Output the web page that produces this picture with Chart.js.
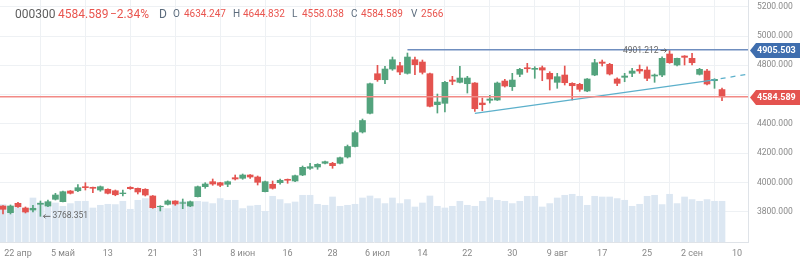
<!DOCTYPE html>
<html>
<head>
<meta charset="utf-8">
<script src="https://cdn.jsdelivr.net/npm/chart.js@4.4.0/dist/chart.umd.min.js"></script>
<style>
  html, body { margin: 0; padding: 0; background: #fff; }
  #wrap { position: relative; width: 800px; height: 263px; }
  #head span { position: absolute; white-space: nowrap; font-family: Roboto, sans-serif; line-height: 1; }
  .big { font-size: 12px; top: 8px; }
  .sm { font-size: 10px; top: 9px; }
  .red { color: #e9554f; }
  .gray { color: #5e5e5e; }
  .lbl { color: #5b6b7c; }
</style>
</head>
<body>
<div id="wrap">
  <canvas id="chart" width="800" height="263"></canvas>
  <div id="head">
    <span class="big gray" style="left:15px">000300</span>
    <span class="big red" style="left:58px">4584.589</span>
    <span class="big red" style="left:110px">−2.34%</span>
    <span class="big lbl" style="left:159px">D</span>
    <span class="sm lbl" style="left:173px">O</span>
    <span class="sm red" style="left:184px">4634.247</span>
    <span class="sm lbl" style="left:233px">H</span>
    <span class="sm red" style="left:243px">4644.832</span>
    <span class="sm lbl" style="left:292px">L</span>
    <span class="sm red" style="left:302px">4558.038</span>
    <span class="sm lbl" style="left:351px">C</span>
    <span class="sm red" style="left:361px">4584.589</span>
    <span class="sm lbl" style="left:411px">V</span>
    <span class="sm red" style="left:421px">2566</span>
  </div>
</div>
<script>
// дневные свечи 000300, 21 апр - 9 сен (индекс = торговый день)
const opens = [3838.9, 3793.2, 3857.4, 3825.3, 3811.6, 3850.6, 3838.9, 3884.7, 3868.3, 3941.4,
  3943.0, 3970.8, 3966.7, 3948.2, 3953.0, 3943.0, 3923.0, 3966.7, 3959.8, 3953.0,
  3907.3, 3834.2, 3850.6, 3873.0, 3857.4, 3838.9, 3902.5, 3970.8, 4004.9, 3998.1,
  3987.2, 4032.2, 4028.1, 4050.6, 4037.0, 3936.6, 3987.2, 3998.1, 4021.3, 4009.7,
  4050.6, 4096.4, 4105.3, 4130.6, 4130.6, 4130.6, 4173.6, 4245.3, 4344.3, 4472.0,
  4742.4, 4701.5, 4774.5, 4797.1, 4745.2, 4838.1, 4822.4, 4742.4, 4530.8, 4540.3,
  4699.4, 4683.7, 4674.2, 4678.9, 4542.3, 4560.8, 4562.8, 4692.6, 4653.7, 4738.4,
  4783.4, 4772.5, 4783.4, 4745.2, 4683.7, 4733.6, 4676.9, 4670.1, 4624.3, 4733.6,
  4822.4, 4806.6, 4706.3, 4717.9, 4745.2, 4772.5, 4767.7, 4726.7, 4733.6, 4877.0,
  4801.9, 4863.3, 4847.6, 4738.4, 4760.9, 4694.7, 4634.247];
const highs = [3842.4, 3845.8, 3864.2, 3832.2, 3843.7, 3873.0, 3879.9, 3925.7, 3941.4, 3944.8,
  3984.4, 3998.1, 3968.7, 3975.5, 3957.0, 3948.2, 3948.2, 3970.8, 3961.9, 3957.0,
  3910.7, 3841.0, 3879.9, 3875.0, 3886.7, 3873.0, 3975.5, 3998.1, 4023.4, 4000.8,
  4009.7, 4050.6, 4057.5, 4054.0, 4043.8, 4009.7, 4009.7, 4023.4, 4023.4, 4050.6,
  4112.1, 4130.6, 4127.8, 4146.3, 4137.4, 4173.6, 4255.5, 4351.2, 4433.0, 4678.9,
  4799.8, 4793.0, 4856.5, 4820.3, 4883.8, 4856.5, 4836.0, 4747.2, 4603.8, 4690.5,
  4724.7, 4793.0, 4724.7, 4682.3, 4576.5, 4595.0, 4685.8, 4704.2, 4745.2, 4779.3,
  4813.5, 4790.3, 4795.1, 4756.1, 4745.2, 4795.1, 4681.0, 4676.9, 4709.7, 4840.8,
  4836.0, 4813.5, 4715.1, 4745.2, 4779.3, 4801.9, 4790.3, 4740.4, 4858.5, 4901.212,
  4849.7, 4866.0, 4881.8, 4779.3, 4772.5, 4708.4, 4644.832];
const lows = [3784.4, 3784.4, 3830.0, 3791.2, 3798.0, 3768.351, 3834.0, 3879.9, 3866.0, 3920.9,
  3936.6, 3948.2, 3929.8, 3939.4, 3920.9, 3909.0, 3907.3, 3953.0, 3920.9, 3907.3,
  3823.2, 3804.8, 3845.8, 3843.7, 3820.5, 3834.2, 3900.4, 3959.8, 3980.3, 3970.8,
  3970.8, 4016.5, 4021.3, 4028.1, 3982.4, 3934.6, 3954.4, 3987.2, 3994.0, 4004.9,
  4045.9, 4089.6, 4089.6, 4125.8, 4096.4, 4125.8, 4166.7, 4241.8, 4337.5, 4467.2,
  4690.5, 4674.2, 4765.7, 4735.6, 4740.0, 4735.6, 4740.4, 4515.0, 4474.0, 4480.9,
  4667.3, 4678.9, 4610.6, 4484.3, 4489.8, 4542.3, 4559.4, 4651.6, 4627.7, 4722.0,
  4752.0, 4711.0, 4694.7, 4631.1, 4642.7, 4665.3, 4562.8, 4622.1, 4619.6, 4728.8,
  4795.1, 4733.6, 4660.5, 4687.8, 4722.0, 4745.2, 4694.7, 4683.7, 4722.0, 4813.5,
  4795.1, 4801.9, 4801.9, 4733.6, 4665.3, 4642.7, 4558.038];
const closes = [3816.4, 3838.9, 3834.2, 3798.0, 3823.2, 3857.4, 3868.3, 3914.1, 3936.6, 3925.7,
  3964.0, 3964.0, 3959.8, 3970.8, 3925.7, 3915.8, 3927.7, 3957.1, 3934.6, 3914.1,
  3827.3, 3836.9, 3873.0, 3852.6, 3861.6, 3868.3, 3970.8, 3989.2, 3989.2, 3980.3,
  4004.9, 4023.4, 4050.6, 4037.0, 4000.8, 4004.9, 3959.8, 4014.5, 4014.5, 4045.9,
  4103.2, 4107.3, 4123.7, 4141.5, 4114.2, 4168.8, 4245.3, 4340.2, 4422.8, 4674.2,
  4701.5, 4774.5, 4838.1, 4754.0, 4856.5, 4803.9, 4752.0, 4519.8, 4549.2, 4683.7,
  4690.5, 4713.1, 4713.1, 4503.4, 4530.8, 4569.7, 4678.9, 4658.5, 4699.4, 4772.5,
  4776.6, 4779.3, 4767.7, 4706.3, 4722.0, 4681.0, 4660.5, 4635.9, 4706.3, 4817.6,
  4813.5, 4740.4, 4676.9, 4726.7, 4760.9, 4760.9, 4711.0, 4733.6, 4847.6, 4817.6,
  4847.6, 4854.5, 4817.6, 4772.5, 4672.1, 4704.2, 4584.589];
const volumes = [2358, 2207, 2421, 2106, 2774, 2484, 2484, 2459, 2251, 2421,
  2566, 2566, 2144, 2314, 2377, 2358, 2566, 2062, 2629, 2736,
  2314, 2270, 2106, 2358, 2566, 2314, 2566, 2522, 2421, 2736,
  2629, 2629, 2106, 2270, 2314, 1936, 2881, 2673, 2421, 2522,
  2944, 2944, 2377, 2314, 2837, 2251, 2314, 2377, 2774, 2900,
  2736, 2421, 2774, 2421, 2673, 2207, 2459, 2900, 2251, 2144,
  2251, 2566, 2314, 2251, 2566, 2799, 2629, 2566, 2421, 2566,
  2881, 2881, 2207, 2421, 2774, 2944, 3007, 2881, 2314, 2881,
  2837, 2837, 2736, 2629, 2251, 2377, 2881, 2944, 2358, 3007,
  2421, 2837, 2673, 2566, 2673, 2566, 2566];

// подписи оси времени
const xTickPos = [2, 8, 14, 20, 26, 32, 38, 44, 50, 56, 62, 68, 74, 80, 86, 92, 98];
const xTickLabels = ['22 апр', '5 май', '13', '21', '31', '8 июн', '16', '28', '6 июл',
  '14', '22', '30', '9 авг', '17', '25', '2 сен', '10'];
const yTicks = [3800, 4000, 4200, 4400, 4600, 4800, 5000, 5200];

// горизонтальные уровни и линия тренда
const levelValues = [4905.503, 4584.589];
const levelFrom = [54, -0.4];
const trendX = [63, 94.5, 99.47];
const trendY = [4472, 4697, 4740];

const GREEN = '#53a37d';
const RED = '#e4534f';
const X_MIN = -0.4, X_MAX = 99.47;

const candleColor = c => closes[c.dataIndex] >= opens[c.dataIndex] ? GREEN : RED;

const bodies = opens.map((o, i) => ({ x: i, y: [o, closes[i]] }));
const wicks = lows.map((l, i) => ({ x: i, y: [l, highs[i]] }));
const vols = volumes.map((v, i) => ({ x: i, y: v }));

// убираем автоматические отступы осей
function noPad(s) {
  s.paddingTop = 0; s.paddingBottom = 0;
  s.paddingLeft = 0; s.paddingRight = 0;
}

// ценовые метки справа и подписи экстремумов
const notes = {
  id: 'notes',
  afterDraw(chart) {
    const ctx = chart.ctx;
    const xs = chart.scales.x, ys = chart.scales.y;
    const area = chart.chartArea;
    const tagColors = ['#3f6eae', '#e4534f'];

    ctx.save();
    levelValues.forEach((v, k) => {
      const yc = Math.round(ys.getPixelForValue(v)) + 0.5;
      const x0 = area.right + 2;
      ctx.fillStyle = tagColors[k];
      ctx.beginPath();
      ctx.moveTo(x0, yc);
      ctx.lineTo(x0 + 6, yc - 7.5);
      ctx.lineTo(800, yc - 7.5);
      ctx.lineTo(800, yc + 7.5);
      ctx.lineTo(x0 + 6, yc + 7.5);
      ctx.closePath();
      ctx.fill();
      ctx.fillStyle = '#fff';
      ctx.font = 'bold 9px Roboto, sans-serif';
      ctx.textAlign = 'left';
      ctx.textBaseline = 'middle';
      ctx.fillText(v.toFixed(3), x0 + 7, yc + 0.5);
    });

    // максимум и минимум
    ctx.fillStyle = '#666';
    ctx.strokeStyle = '#666';
    ctx.lineWidth = 1;
    ctx.font = '8.5px Roboto, sans-serif';
    ctx.textBaseline = 'middle';

    const iHi = highs.indexOf(Math.max(...highs));
    const iLo = lows.indexOf(Math.min(...lows));

    let px = xs.getPixelForValue(iHi), py = ys.getPixelForValue(highs[iHi]);
    ctx.textAlign = 'right';
    ctx.fillText(highs[iHi].toFixed(3), px - 11, py);
    ctx.beginPath();
    ctx.moveTo(px - 9, py); ctx.lineTo(px - 3, py);
    ctx.moveTo(px - 5, py - 2); ctx.lineTo(px - 3, py); ctx.lineTo(px - 5, py + 2);
    ctx.stroke();

    px = xs.getPixelForValue(iLo); py = ys.getPixelForValue(lows[iLo]);
    ctx.textAlign = 'left';
    ctx.fillText(lows[iLo].toFixed(3), px + 12, py);
    ctx.beginPath();
    ctx.moveTo(px + 3, py); ctx.lineTo(px + 10, py);
    ctx.moveTo(px + 5, py - 2); ctx.lineTo(px + 3, py); ctx.lineTo(px + 5, py + 2);
    ctx.stroke();
    ctx.restore();
  }
};

new Chart(document.getElementById('chart'), {
  type: 'bar',
  data: {
    datasets: [
      {
        type: 'line', data: [{ x: levelFrom[1], y: levelValues[1] }, { x: X_MAX, y: levelValues[1] }],
        borderColor: '#f28a86', borderWidth: 1.5, pointRadius: 0, order: 0
      },
      {
        type: 'line', data: [{ x: levelFrom[0], y: levelValues[0] }, { x: X_MAX, y: levelValues[0] }],
        borderColor: '#6f8ebf', borderWidth: 1.5, pointRadius: 0, order: 0
      },
      {
        type: 'line', data: [{ x: trendX[0], y: trendY[0] }, { x: trendX[1], y: trendY[1] }],
        borderColor: '#5cb0cb', borderWidth: 1.3, pointRadius: 0, order: 0
      },
      {
        type: 'line', data: [{ x: trendX[1], y: trendY[1] }, { x: trendX[2], y: trendY[2] }],
        borderColor: '#5cb0cb', borderWidth: 1.3, borderDash: [5, 5], pointRadius: 0, order: 0
      },
      {
        data: bodies, backgroundColor: candleColor, barThickness: 6, grouped: false,
        borderWidth: 0, order: 1
      },
      {
        data: wicks, backgroundColor: candleColor, barThickness: 1, grouped: false,
        borderWidth: 0, order: 2
      },
      {
        data: vols, yAxisID: 'yv', backgroundColor: '#dce7f2', barThickness: 6, grouped: false,
        borderWidth: 0, order: 3
      }
    ]
  },
  options: {
    responsive: false,
    animation: false,
    layout: { padding: 0 },
    plugins: { legend: { display: false }, tooltip: { enabled: false } },
    scales: {
      x: {
        type: 'linear', min: X_MIN, max: X_MAX, offset: false,
        grid: { color: '#eef1f4', drawTicks: false },
        border: { color: '#dfe3e8' },
        ticks: {
          color: '#888', font: { family: 'Roboto', size: 9 }, padding: 6,
          autoSkip: false, maxRotation: 0,
          callback: (v, i) => xTickLabels[i]
        },
        afterBuildTicks: s => { s.ticks = xTickPos.map(v => ({ value: v })); },
        afterFit: s => { s.height = 21; noPad(s); }
      },
      y: {
        position: 'right', min: 3593, max: 5246,
        grid: { color: '#eef1f4', drawTicks: false },
        border: { color: '#dfe3e8' },
        ticks: {
          color: '#888', font: { family: 'Roboto', size: 8.5 }, padding: 9,
          callback: v => v.toFixed(3)
        },
        afterBuildTicks: s => { s.ticks = yTicks.map(v => ({ value: v })); },
        afterFit: s => { s.width = 52; noPad(s); }
      },
      yv: { display: false, min: 0, max: 15250 }
    }
  },
  plugins: [notes]
});
</script>
</body>
</html>
